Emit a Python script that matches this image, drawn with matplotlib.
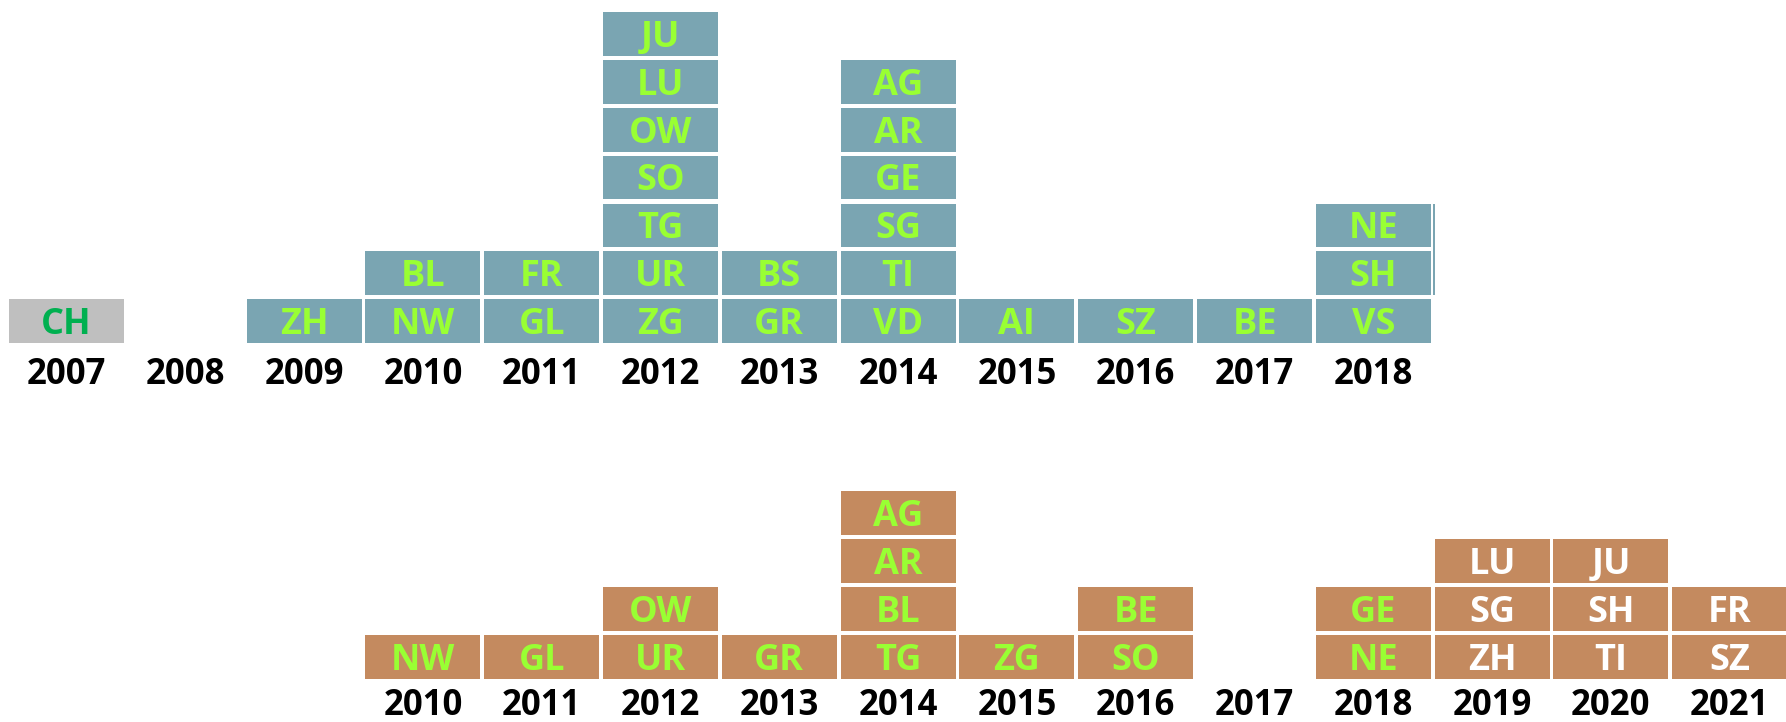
import matplotlib
matplotlib.use('Agg')
import matplotlib.pyplot as plt

plt.rcParams['font.family'] = ['Open Sans', 'DejaVu Sans']

# ==================== data ====================
# cantons per year, listed bottom to top
top_years = [2007, 2008, 2009, 2010, 2011, 2012, 2013, 2014, 2015, 2016, 2017, 2018]
top_stacks = [
    ['CH'],
    [],
    ['ZH'],
    ['NW', 'BL'],
    ['GL', 'FR'],
    ['ZG', 'UR', 'TG', 'SO', 'OW', 'LU', 'JU'],
    ['GR', 'BS'],
    ['VD', 'TI', 'SG', 'GE', 'AR', 'AG'],
    ['AI'],
    ['SZ'],
    ['BE'],
    ['VS', 'SH', 'NE'],
]
federal_year = 2007

bottom_years = [2010, 2011, 2012, 2013, 2014, 2015, 2016, 2017, 2018, 2019, 2020, 2021]
bottom_stacks = [
    ['NW'],
    ['GL'],
    ['UR', 'OW'],
    ['GR'],
    ['TG', 'BL', 'AR', 'AG'],
    ['ZG'],
    ['SO', 'BE'],
    [],
    ['NE', 'GE'],
    ['ZH', 'SG', 'LU'],
    ['TI', 'SH', 'JU'],
    ['SZ', 'FR'],
]
new_years = [2019, 2020, 2021]

# ==================== style ====================
teal = '#7aa5b2'
brown = '#c48a5f'
grey = '#bfbfbf'
lime = '#99ff33'
green = '#00b050'

W, H = 1786, 722
fig = plt.figure(figsize=(W / 100, H / 100), dpi=100)

pitch_x = 118.8
x0 = 66.5          # pixel centre of first column
xlim = (-x0 / pitch_x, (W - x0) / pitch_x)
bar_w = 115 / pitch_x

cell_fs = 26
year_fs = 25


def setup(ax, row0_px, pitch_y):
    ax.set_xlim(*xlim)
    ax.set_ylim((row0_px - H) / pitch_y, row0_px / pitch_y)
    ax.axis('off')


# top chart
ax1 = fig.add_axes([0, 0, 1, 1])
p1 = 47.8
setup(ax1, 321, p1)
h1 = 43.5 / p1
for year, stack in zip(top_years, top_stacks):
    x = year - top_years[0]
    for k, name in enumerate(stack):
        fc = grey if year == federal_year else teal
        tc = green if year == federal_year else lime
        ax1.bar(x, h1, bottom=k - h1 / 2, width=bar_w, color=fc, linewidth=0)
        ax1.text(x, k - 0.08, name, ha='center', va='center', color=tc,
                 fontsize=cell_fs, fontweight='bold')
    ax1.text(x, -1.13, str(year), ha='center', va='center', color='black',
             fontsize=year_fs, fontweight='bold')
# thin sliver at the right edge of the 2018 stack
ax1.bar(12 - 0.5 + 0.012, 1 + h1, bottom=1 - h1 / 2, width=0.014, color=teal, linewidth=0)

# bottom chart
ax2 = fig.add_axes([0, 0, 1, 1])
p2 = 48.0
setup(ax2, 657, p2)
h2 = 44 / p2
for year, stack in zip(bottom_years, bottom_stacks):
    x = year - top_years[0]
    tc = 'white' if year in new_years else lime
    for k, name in enumerate(stack):
        ax2.bar(x, h2, bottom=k - h2 / 2, width=bar_w, color=brown, linewidth=0)
        ax2.text(x, k - 0.08, name, ha='center', va='center', color=tc,
                 fontsize=cell_fs, fontweight='bold')
    ax2.text(x, -1.03, str(year), ha='center', va='center', color='black',
             fontsize=year_fs, fontweight='bold')

fig.savefig('out.png', dpi=100)
